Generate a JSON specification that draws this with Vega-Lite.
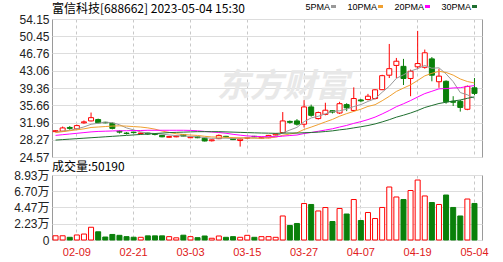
{
  "$schema": "https://vega.github.io/schema/vega-lite/v6.json",
  "padding": {"left": 13, "top": 2, "right": 20, "bottom": 4},
  "background": "white",
  "bounds": "flush",
  "spacing": 18,
  "data": {"values": [
    {"d":"02-06","o":30.0,"h":30.3,"l":29.9,"c":30.2,"v":5800,"5PMA":29.9,"10PMA":29.8,"20PMA":29.2,"30PMA":28.2},
    {"d":"02-07","o":30.1,"h":31.1,"l":30.0,"c":30.8,"v":5800,"5PMA":30.1,"10PMA":30.0,"20PMA":29.35,"30PMA":28.3},
    {"d":"02-08","o":30.9,"h":31.2,"l":30.4,"c":30.7,"v":3700,"5PMA":30.3,"10PMA":30.2,"20PMA":29.5,"30PMA":28.4},
    {"d":"02-09","o":30.6,"h":31.5,"l":30.5,"c":31.3,"v":6900,"5PMA":30.6,"10PMA":30.4,"20PMA":29.65,"30PMA":28.5},
    {"d":"02-10","o":31.9,"h":32.4,"l":31.7,"c":32.1,"v":8200,"5PMA":31.02,"10PMA":30.6,"20PMA":29.8,"30PMA":28.6},
    {"d":"02-13","o":32.3,"h":34.1,"l":32.2,"c":33.0,"v":17500,"5PMA":31.58,"10PMA":30.9,"20PMA":29.95,"30PMA":28.7},
    {"d":"02-14","o":32.6,"h":32.8,"l":31.8,"c":31.9,"v":11300,"5PMA":31.8,"10PMA":31.0,"20PMA":30.05,"30PMA":28.8},
    {"d":"02-15","o":32.0,"h":32.1,"l":31.8,"c":31.9,"v":4100,"5PMA":32.04,"10PMA":31.1,"20PMA":30.1,"30PMA":28.9},
    {"d":"02-16","o":31.8,"h":32.0,"l":30.5,"c":30.7,"v":7600,"5PMA":31.92,"10PMA":31.2,"20PMA":30.15,"30PMA":29.0},
    {"d":"02-17","o":30.1,"h":30.3,"l":29.6,"c":29.9,"v":6400,"5PMA":31.48,"10PMA":31.25,"20PMA":30.2,"30PMA":29.1},
    {"d":"02-20","o":29.7,"h":29.9,"l":29.4,"c":29.6,"v":4600,"5PMA":30.8,"10PMA":31.19,"20PMA":30.2,"30PMA":29.2},
    {"d":"02-21","o":29.9,"h":30.0,"l":29.6,"c":29.8,"v":3800,"5PMA":30.38,"10PMA":31.09,"20PMA":30.25,"30PMA":29.3},
    {"d":"02-22","o":29.6,"h":29.8,"l":29.4,"c":29.7,"v":3700,"5PMA":29.94,"10PMA":30.99,"20PMA":30.25,"30PMA":29.4},
    {"d":"02-23","o":29.7,"h":29.8,"l":29.3,"c":29.5,"v":5700,"5PMA":29.7,"10PMA":30.81,"20PMA":30.3,"30PMA":29.5},
    {"d":"02-24","o":29.5,"h":29.6,"l":29.2,"c":29.4,"v":5700,"5PMA":29.6,"10PMA":30.54,"20PMA":30.3,"30PMA":29.6},
    {"d":"02-27","o":29.2,"h":29.3,"l":28.8,"c":28.9,"v":5700,"5PMA":29.46,"10PMA":30.13,"20PMA":30.3,"30PMA":29.7},
    {"d":"02-28","o":28.8,"h":29.1,"l":28.7,"c":28.95,"v":4600,"5PMA":29.29,"10PMA":29.84,"20PMA":30.3,"30PMA":29.8},
    {"d":"03-01","o":28.9,"h":29.2,"l":28.8,"c":29.05,"v":3000,"5PMA":29.16,"10PMA":29.55,"20PMA":30.3,"30PMA":29.85},
    {"d":"03-02","o":29.4,"h":29.5,"l":29.0,"c":29.05,"v":6600,"5PMA":29.07,"10PMA":29.39,"20PMA":30.3,"30PMA":29.9},
    {"d":"03-03","o":28.7,"h":28.9,"l":28.6,"c":28.85,"v":4600,"5PMA":28.96,"10PMA":29.28,"20PMA":30.27,"30PMA":29.95},
    {"d":"03-06","o":28.9,"h":29.0,"l":28.6,"c":28.7,"v":3200,"5PMA":28.92,"10PMA":29.19,"20PMA":30.19,"30PMA":30.0},
    {"d":"03-07","o":28.6,"h":28.7,"l":27.9,"c":28.0,"v":5500,"5PMA":28.73,"10PMA":29.01,"20PMA":30.05,"30PMA":30.0},
    {"d":"03-08","o":28.05,"h":28.3,"l":27.9,"c":28.25,"v":2400,"5PMA":28.57,"10PMA":28.87,"20PMA":29.93,"30PMA":30.0},
    {"d":"03-09","o":28.5,"h":29.4,"l":28.4,"c":29.2,"v":5500,"5PMA":28.6,"10PMA":28.84,"20PMA":29.82,"30PMA":30.0},
    {"d":"03-10","o":29.0,"h":29.1,"l":28.7,"c":28.9,"v":3700,"5PMA":28.61,"10PMA":28.79,"20PMA":29.66,"30PMA":29.95},
    {"d":"03-13","o":28.5,"h":28.6,"l":28.2,"c":28.3,"v":4600,"5PMA":28.53,"10PMA":28.73,"20PMA":29.43,"30PMA":29.9},
    {"d":"03-14","o":28.1,"h":28.6,"l":26.8,"c":28.4,"v":3700,"5PMA":28.61,"10PMA":28.67,"20PMA":29.25,"30PMA":29.85},
    {"d":"03-15","o":28.6,"h":28.8,"l":28.4,"c":28.7,"v":6400,"5PMA":28.7,"10PMA":28.64,"20PMA":29.09,"30PMA":29.8},
    {"d":"03-16","o":29.0,"h":29.1,"l":28.8,"c":28.9,"v":3700,"5PMA":28.64,"10PMA":28.62,"20PMA":29.0,"30PMA":29.75},
    {"d":"03-17","o":28.6,"h":28.9,"l":28.5,"c":28.75,"v":4600,"5PMA":28.61,"10PMA":28.61,"20PMA":28.95,"30PMA":29.71},
    {"d":"03-20","o":28.7,"h":29.3,"l":28.6,"c":29.2,"v":4600,"5PMA":28.79,"10PMA":28.66,"20PMA":28.93,"30PMA":29.68},
    {"d":"03-21","o":29.3,"h":29.6,"l":29.2,"c":29.5,"v":3700,"5PMA":29.01,"10PMA":28.81,"20PMA":28.91,"30PMA":29.64},
    {"d":"03-22","o":29.8,"h":34.2,"l":29.6,"c":32.3,"v":33000,"5PMA":29.73,"10PMA":29.22,"20PMA":29.04,"30PMA":29.69},
    {"d":"03-23","o":32.2,"h":32.4,"l":31.7,"c":32.0,"v":19900,"5PMA":30.35,"10PMA":29.5,"20PMA":29.17,"30PMA":29.71},
    {"d":"03-24","o":32.3,"h":32.7,"l":31.3,"c":31.6,"v":22700,"5PMA":30.92,"10PMA":29.77,"20PMA":29.28,"30PMA":29.7},
    {"d":"03-27","o":31.6,"h":36.75,"l":30.9,"c":35.3,"v":50100,"5PMA":32.14,"10PMA":30.47,"20PMA":29.6,"30PMA":29.77},
    {"d":"03-28","o":35.3,"h":35.8,"l":33.2,"c":33.5,"v":48800,"5PMA":32.94,"10PMA":30.98,"20PMA":29.82,"30PMA":29.83},
    {"d":"03-29","o":32.8,"h":34.3,"l":32.6,"c":34.1,"v":39900,"5PMA":33.3,"10PMA":31.52,"20PMA":30.08,"30PMA":29.9},
    {"d":"03-30","o":33.7,"h":36.2,"l":33.5,"c":34.6,"v":44600,"5PMA":33.82,"10PMA":32.09,"20PMA":30.35,"30PMA":30.03},
    {"d":"03-31","o":34.5,"h":34.6,"l":33.9,"c":34.2,"v":25400,"5PMA":34.34,"10PMA":32.63,"20PMA":30.62,"30PMA":30.17},
    {"d":"04-03","o":34.0,"h":36.4,"l":33.8,"c":36.0,"v":43300,"5PMA":34.48,"10PMA":33.31,"20PMA":30.99,"30PMA":30.39},
    {"d":"04-04","o":35.8,"h":36.1,"l":34.4,"c":35.1,"v":35700,"5PMA":34.8,"10PMA":33.87,"20PMA":31.34,"30PMA":30.56},
    {"d":"04-06","o":34.55,"h":39.5,"l":34.3,"c":37.1,"v":55600,"5PMA":35.4,"10PMA":34.35,"20PMA":31.78,"30PMA":30.81},
    {"d":"04-07","o":36.8,"h":37.0,"l":36.3,"c":36.6,"v":26800,"5PMA":35.8,"10PMA":34.81,"20PMA":32.15,"30PMA":31.05},
    {"d":"04-10","o":36.9,"h":38.1,"l":36.7,"c":37.6,"v":37800,"5PMA":36.48,"10PMA":35.41,"20PMA":32.59,"30PMA":31.32},
    {"d":"04-11","o":37.1,"h":39.1,"l":36.9,"c":38.97,"v":29500,"5PMA":37.07,"10PMA":35.78,"20PMA":33.12,"30PMA":31.66},
    {"d":"04-12","o":39.0,"h":42.2,"l":38.9,"c":42.0,"v":44700,"5PMA":38.45,"10PMA":36.63,"20PMA":33.8,"30PMA":32.09},
    {"d":"04-13","o":42.1,"h":48.8,"l":41.5,"c":43.5,"v":72800,"5PMA":39.73,"10PMA":37.57,"20PMA":34.54,"30PMA":32.57},
    {"d":"04-14","o":44.2,"h":45.8,"l":41.5,"c":45.1,"v":59100,"5PMA":41.43,"10PMA":38.62,"20PMA":35.35,"30PMA":33.11},
    {"d":"04-17","o":44.0,"h":45.6,"l":40.0,"c":41.4,"v":55600,"5PMA":42.19,"10PMA":39.34,"20PMA":35.98,"30PMA":33.53},
    {"d":"04-18","o":41.4,"h":43.3,"l":37.6,"c":42.95,"v":68000,"5PMA":42.99,"10PMA":40.03,"20PMA":36.67,"30PMA":34.0},
    {"d":"04-19","o":43.9,"h":51.6,"l":43.5,"c":44.6,"v":82400,"5PMA":43.51,"10PMA":40.98,"20PMA":37.43,"30PMA":34.55},
    {"d":"04-20","o":43.8,"h":47.6,"l":43.5,"c":46.9,"v":60500,"5PMA":44.19,"10PMA":41.96,"20PMA":38.16,"30PMA":35.18},
    {"d":"04-21","o":45.6,"h":46.0,"l":40.8,"c":42.1,"v":51500,"5PMA":43.59,"10PMA":42.51,"20PMA":38.66,"30PMA":35.61},
    {"d":"04-24","o":40.7,"h":43.5,"l":39.4,"c":41.9,"v":48800,"5PMA":43.69,"10PMA":42.94,"20PMA":39.18,"30PMA":36.04},
    {"d":"04-25","o":40.8,"h":41.0,"l":36.0,"c":36.4,"v":61800,"5PMA":42.38,"10PMA":42.69,"20PMA":39.23,"30PMA":36.31},
    {"d":"04-26","o":36.5,"h":37.6,"l":35.5,"c":36.3,"v":44700,"5PMA":40.72,"10PMA":42.12,"20PMA":39.37,"30PMA":36.57},
    {"d":"04-27","o":36.5,"h":36.8,"l":34.3,"c":35.2,"v":33000,"5PMA":38.38,"10PMA":41.29,"20PMA":39.43,"30PMA":36.79},
    {"d":"04-28","o":34.8,"h":39.9,"l":34.6,"c":39.7,"v":56300,"5PMA":37.9,"10PMA":40.75,"20PMA":39.68,"30PMA":37.15},
    {"d":"05-04","o":39.4,"h":41.5,"l":37.8,"c":38.2,"v":50190,"5PMA":37.16,"10PMA":40.43,"20PMA":39.88,"30PMA":37.46}
  ]},
  "config": {
    "view": {"stroke": "#9a9a9a", "strokeWidth": 1},
    "axis": {"labelFont": "Liberation Sans, Noto Sans CJK SC", "labelFontSize": 12, "labelColor": "#222222", "ticks": false, "domain": false, "title": null, "gridColor": "#dddddd", "labelPadding": 3, "labelOverlap": false},
    "title": {"font": "Noto Sans CJK SC", "fontWeight": "normal", "color": "#000000", "anchor": "start", "frame": "group"}
  },
  "vconcat": [
    {
      "width": 430,
      "height": 138,
      "title": {"text": "富信科技[688662] 2023-05-04 15:30", "fontSize": 12, "offset": -3},
      "encoding": {
        "x": {"field": "d", "type": "ordinal", "scale": {"type": "band", "paddingInner": 0, "paddingOuter": 0.28, "align": 0},
              "axis": {"values": ["02-09","02-21","03-03","03-15","03-27","04-07","04-19","05-04"], "labels": false, "grid": true, "gridDash": [3,3], "gridColor": "#c8c8c8"}}
      },
      "layer": [
        {
          "data": {"values": [{}]},
          "mark": {"type": "text", "text": "东方财富", "font": "Noto Sans CJK SC", "fontSize": 33, "fontWeight": "bold", "fontStyle": "italic", "color": "#e8e8e8"},
          "encoding": {"x": {"datum": "03-22", "type": "ordinal"},
            "y": {"datum": 39.6, "type": "quantitative", "scale": {"domain": [24.57, 54.15], "nice": false, "zero": false},
                  "axis": {"values": [24.57,28.27,31.96,35.66,39.36,43.06,46.76,50.45,54.15], "format": ".2f", "grid": true, "tickCount": 9}}}
        },
        {
          "mark": {"type": "rule", "strokeWidth": 1},
          "encoding": {
            "y": {"field": "l", "type": "quantitative",
                  "axis": {"values": [24.57,28.27,31.96,35.66,39.36,43.06,46.76,50.45,54.15], "format": ".2f", "grid": true, "tickCount": 9}},
            "y2": {"field": "h"},
            "color": {"condition": {"test": "datum.c >= datum.o", "value": "#ff0000"}, "value": "#0a800a"}
          }
        },
        {
          "mark": {"type": "bar", "size": 5, "strokeWidth": 1},
          "encoding": {
            "y": {"field": "o", "type": "quantitative",
                  "axis": {"values": [24.57,28.27,31.96,35.66,39.36,43.06,46.76,50.45,54.15], "format": ".2f", "grid": true, "tickCount": 9}},
            "y2": {"field": "c"},
            "fill": {"condition": {"test": "datum.c >= datum.o", "value": "#ffffff"}, "value": "#0a800a"},
            "stroke": {"condition": {"test": "datum.c >= datum.o", "value": "#ff0000"}, "value": "#0a800a"}
          }
        },
        {
          "transform": [{"fold": ["5PMA","10PMA","20PMA","30PMA"], "as": ["k","val"]}],
          "mark": {"type": "line", "strokeWidth": 1},
          "encoding": {
            "y": {"field": "val", "type": "quantitative",
                  "axis": {"values": [24.57,28.27,31.96,35.66,39.36,43.06,46.76,50.45,54.15], "format": ".2f", "grid": true, "tickCount": 9}},
            "color": {"field": "k", "type": "nominal",
              "scale": {"domain": ["5PMA","10PMA","20PMA","30PMA"], "range": ["#999999","#f0a030","#ff00ff","#1f6f2f"]},
              "legend": {"orient": "none", "legendX": 277, "legendY": -17, "direction": "horizontal", "gridAlign": "none", "title": null, "symbolType": "stroke", "symbolStrokeWidth": 3, "symbolSize": 25, "labelFont": "Liberation Sans", "labelFontSize": 9, "labelColor": "#000000", "labelAlign": "right", "labelOffset": -8, "columnPadding": 5}}
          }
        }
      ]
    },
    {
      "width": 430,
      "height": 65,
      "title": {"text": "成交量:50190", "fontSize": 12, "offset": 0, "dy": 5},
      "mark": {"type": "bar", "size": 5, "strokeWidth": 1},
      "encoding": {
        "x": {"field": "d", "type": "ordinal", "scale": {"type": "band", "paddingInner": 0, "paddingOuter": 0.28, "align": 0},
              "axis": {"values": ["02-09","02-21","03-03","03-15","03-27","04-07","04-19","05-04"], "labelAngle": 0, "labelColor": "#e02020", "labelFontSize": 11, "labelPadding": 6, "grid": true, "gridDash": [3,3], "gridColor": "#c8c8c8"}},
        "y": {"field": "v", "type": "quantitative", "scale": {"domain": [0, 89300], "nice": false},
              "axis": {"values": [0,22300,44700,67000,89300], "labelExpr": "datum.value == 0 ? '0' : format(datum.value/10000, '.2f') + '万'", "grid": true}},
        "y2": {"datum": 0},
        "fill": {"condition": {"test": "datum.c >= datum.o", "value": "#ffffff"}, "value": "#0a800a"},
        "stroke": {"condition": {"test": "datum.c >= datum.o", "value": "#ff0000"}, "value": "#0a800a"}
      }
    }
  ]
}
